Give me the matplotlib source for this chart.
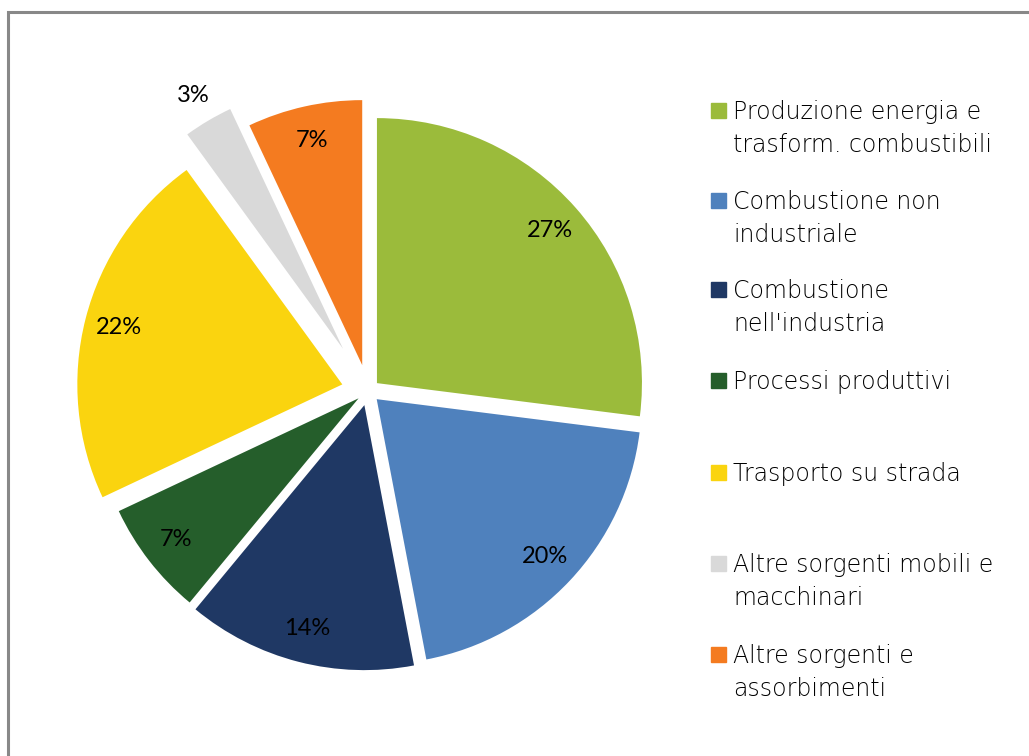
import numpy as np
import matplotlib.pyplot as plt
from matplotlib.patches import Rectangle

# emissions share by macro-sector
categories = [
    "Produzione energia e\ntrasform. combustibili",
    "Combustione non\nindustriale",
    "Combustione\nnell'industria",
    "Processi produttivi",
    "Trasporto su strada",
    "Altre sorgenti mobili e\nmacchinari",
    "Altre sorgenti e\nassorbimenti",
]
shares = [27, 20, 14, 7, 22, 3, 7]
colors = ["#9BBB3B", "#4F81BD", "#1F3864", "#255E2B", "#FAD40F", "#D9D9D9", "#F47B20"]
explode = [0.045, 0.045, 0.055, 0.045, 0.10, 0.185, 0.10]

W, H = 1029, 756
fig = plt.figure(figsize=(W / 100, H / 100), dpi=100)

# pie centred at (368, 391) px, radius 265 px
cx, cy, rad = 368, 391, 265
span = 1.42
half = span * rad
ax = fig.add_axes([(cx - half) / W, (H - cy - half) / H, 2 * half / W, 2 * half / H])
wedges, texts, autotexts = ax.pie(
    shares, colors=colors, explode=explode, startangle=90, counterclock=False,
    autopct="%1.0f%%", pctdistance=0.87, radius=1,
    textprops=dict(fontsize=17, family="Lato", color="black"),
)
ax.set_xlim(-span, span)
ax.set_ylim(-span, span)
ax.set_aspect("equal")
ax.axis("off")

# small slice: put its label outside
w = wedges[5]
mid = np.deg2rad((w.theta1 + w.theta2) / 2)
ox, oy = w.center
autotexts[5].set_position((ox + 1.11 * np.cos(mid), oy + 1.11 * np.sin(mid)))

# legend drawn by hand, evenly spaced rows
tops = [103, 193, 282, 373, 465, 556, 647]
for label, col, top in zip(categories, colors, tops):
    fig.patches.append(Rectangle((711 / W, 1 - (top + 15) / H), 15 / W, 15 / H,
                                 transform=fig.transFigure, color=col))
    for k, line in enumerate(label.split("\n")):
        fig.text(733 / W, 1 - (top + 16 + 33 * k) / H, line, fontsize=17,
                 family="DejaVu Sans", fontweight=200, color="black",
                 va="baseline", ha="left")

# chart area border
fig.patches.append(Rectangle((8 / W, -0.1), 1.2, 1 - 12 / H + 0.1, transform=fig.transFigure,
                             fill=False, edgecolor="#888888", linewidth=2.2))

fig.savefig("out.png", dpi=100)
